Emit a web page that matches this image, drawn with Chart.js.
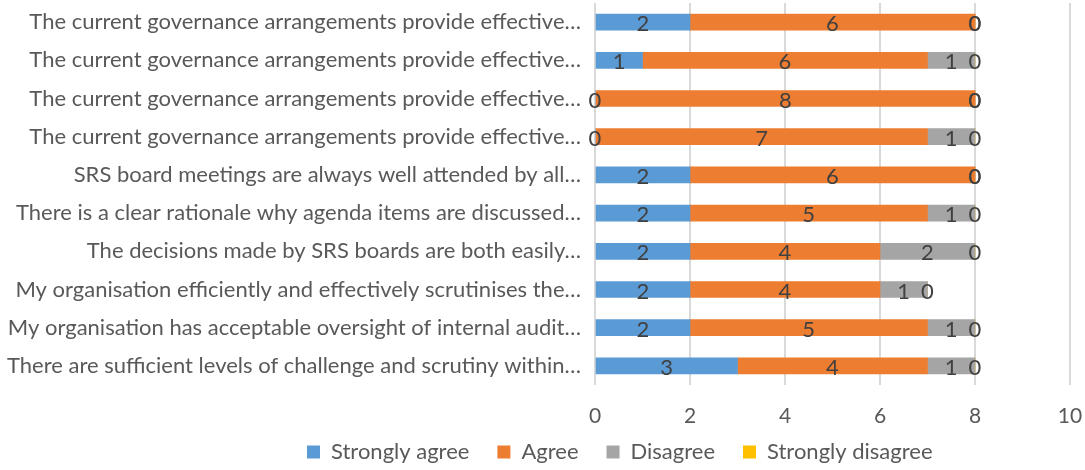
<!DOCTYPE html>
<html><head><meta charset="utf-8">
<script src="https://cdn.jsdelivr.net/npm/chart.js@4/dist/chart.umd.min.js"></script>
<style>html,body{margin:0;padding:0;background:#fff}#wrap{width:1085px;height:470px;position:relative}</style>
</head><body><div id="wrap"><canvas id="c"></canvas></div>
<script>
const categories = [
  "The current governance arrangements provide effective…",
  "The current governance arrangements provide effective…",
  "The current governance arrangements provide effective…",
  "The current governance arrangements provide effective…",
  "SRS board meetings are always well attended by all…",
  "There is a clear rationale why agenda items are discussed…",
  "The decisions made by SRS boards are both easily…",
  "My organisation efficiently and effectively scrutinises the…",
  "My organisation has acceptable oversight of internal audit…",
  "There are sufficient levels of challenge and scrutiny within…"
];
const seriesNames = ["Strongly agree", "Agree", "Disagree", "Strongly disagree"];
const stronglyAgree    = [2, 1, 0, 0, 2, 2, 2, 2, 2, 3];
const agree            = [6, 6, 8, 7, 6, 5, 4, 4, 5, 4];
const disagree         = [0, 1, 0, 1, 0, 1, 2, 1, 1, 1];
const stronglyDisagree = [0, 0, 0, 0, 0, 0, 0, 0, 0, 0];
const xMin = 0, xMax = 10, xStep = 2;

const colors = ["#5B9BD5", "#ED7D31", "#A5A5A5", "#FFC000"];
const FONT = "Lato, 'Open Sans', sans-serif";

const dataLabels = {
  id: 'dataLabels',
  afterDatasetsDraw(chart) {
    const ctx = chart.ctx;
    ctx.save();
    ctx.font = "22px " + FONT;
    ctx.fillStyle = "#404040";
    ctx.textAlign = "center";
    ctx.textBaseline = "middle";
    chart.data.datasets.forEach((ds, i) => {
      const meta = chart.getDatasetMeta(i);
      meta.data.forEach((bar, j) => {
        const v = ds.data[j];
        const p = bar.getProps(['x', 'y', 'base'], true);
        const cx = (p.x + p.base) / 2;
        ctx.fillText(String(v), cx, p.y + 2);
      });
    });
    ctx.restore();
  }
};

const legendShift = {
  id: 'legendShift',
  afterLayout(chart) {
    const lg = chart.legend;
    if (!lg) return;
    const pad = lg.options.labels.padding;
    const w = lg.width, h = lg.height;
    const ih = lg.legendHitBoxes.length ? lg.legendHitBoxes[0].height : 22;
    lg.left = 307 - pad; lg.right = lg.left + w;
    lg.top = 452 - pad - ih / 2; lg.bottom = lg.top + h;
  }
};

new Chart(document.getElementById('c'), {
  type: 'bar',
  data: {
    labels: categories,
    datasets: [
      { label: seriesNames[0], data: stronglyAgree, backgroundColor: colors[0] },
      { label: seriesNames[1], data: agree, backgroundColor: colors[1] },
      { label: seriesNames[2], data: disagree, backgroundColor: colors[2] },
      { label: seriesNames[3], data: stronglyDisagree, backgroundColor: colors[3] }
    ]
  },
  options: {
    indexAxis: 'y',
    responsive: true,
    maintainAspectRatio: false,
    animation: false,
    layout: { padding: { top: 3, right: 15, left: 0, bottom: -19 } },
    datasets: { bar: { barThickness: 16, borderWidth: 0 } },
    scales: {
      x: {
        stacked: true,
        min: xMin,
        max: xMax,
        afterFit(scale) { scale.height = 44; scale.paddingRight = 10; scale.paddingLeft = 0; },
        grid: { color: "#D9D9D9", lineWidth: 2, drawTicks: false },
        border: { display: false },
        ticks: { stepSize: xStep, color: "#595959", font: { family: FONT, size: 21 }, padding: 19 }
      },
      y: {
        stacked: true,
        afterFit(scale) { scale.width = 595; scale.paddingTop = 0; scale.paddingBottom = 0; },
        grid: { display: false },
        border: { display: false },
        ticks: { color: "#595959", font: { family: FONT, size: 22 }, padding: 6, autoSkip: false }
      }
    },
    plugins: {
      legend: {
        position: 'bottom',
        align: 'start',
        labels: {
          color: "#595959",
          font: { family: FONT, size: 22 },
          boxWidth: 13, boxHeight: 13,
          padding: 28
        }
      },
      tooltip: { enabled: false }
    }
  },
  plugins: [dataLabels, legendShift]
});
</script>
</body></html>
